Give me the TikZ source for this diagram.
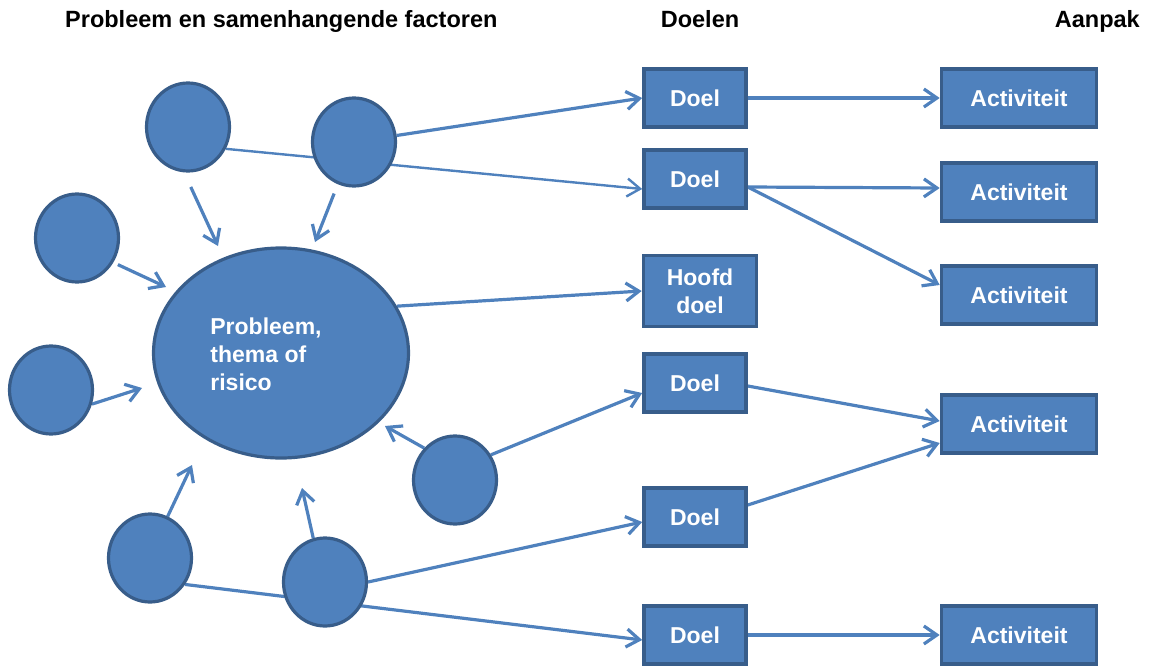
\documentclass[tikz,border=0pt]{standalone}
\usepackage{fontspec}
\setmainfont{Liberation Sans}
\usetikzlibrary{arrows.meta,shapes.geometric,backgrounds}
\definecolor{boxfill}{HTML}{4F81BD}
\definecolor{boxedge}{HTML}{385D8A}
\definecolor{linkblue}{HTML}{4F81BD}
\begin{document}
\begin{tikzpicture}[x=1pt,y=-1pt,
  txt/.style={font=\fontsize{23}{28}\selectfont\bfseries},
  header/.style={font=\fontsize{23.5}{28}\selectfont\bfseries,text=black,inner sep=0pt},
  factor/.style={ellipse,draw=boxedge,fill=boxfill,line width=3.2pt,inner sep=0pt,minimum width=83pt,minimum height=88pt},
  kern/.style={ellipse,draw=boxedge,fill=boxfill,line width=3.2pt,inner sep=0pt,minimum width=255pt,minimum height=210pt},
  goalbox/.style={rectangle,draw=boxedge,fill=boxfill,line width=3.6pt,inner sep=0pt,minimum width=102pt,minimum height=58pt,txt,text=white,align=center},
  actbox/.style={goalbox,minimum width=155pt},
  link/.style={draw=linkblue,line width=3.2pt},
  arr/.style={link,-{Straight Barb[length=13pt,width=18pt]}},
]
\useasboundingbox (0,0) rectangle (1149,669);

% headers
\node[header,anchor=base west] (h1) at (65,28) {Probleem en samenhangende factoren};
\node[header,anchor=base] (h2) at (700,28) {Doelen};
\node[header,anchor=base east] (h3) at (1140,28) {Aanpak};

% central problem
\node[kern] (big) at (281,353) {};
\node[txt,text=white,align=left,inner sep=0pt] (bigtext) at (266,354) {Probleem,\\thema of\\risico};

% factors
\node[factor] (c1) at (188,127) {};
\node[factor] (c2) at (354,142) {};
\node[factor] (c3) at (77,238) {};
\node[factor] (c4) at (51,390) {};
\node[factor] (c5) at (455,480) {};
\node[factor] (c6) at (150,558) {};
\node[factor] (c7) at (325,582) {};

% goals
\node[goalbox] (d1) at (695,98) {Doel};
\node[goalbox] (d2) at (695,179) {Doel};
\node[goalbox,minimum width=113pt,minimum height=71pt] (hoofd) at (700,291) {Hoofd\\doel};
\node[goalbox] (d3) at (695,383) {Doel};
\node[goalbox] (d4) at (695,517) {Doel};
\node[goalbox] (d5) at (695,635) {Doel};

% activities
\node[actbox] (a1) at (1019,98) {Activiteit};
\node[actbox] (a2) at (1019,192) {Activiteit};
\node[actbox] (a3) at (1019,295) {Activiteit};
\node[actbox] (a4) at (1019,424) {Activiteit};
\node[actbox] (a5) at (1019,635) {Activiteit};

% free arrow tips near the problem
\coordinate (t1) at (218,246);
\coordinate (t2) at (315,242);
\coordinate (t3) at (166,287);
\coordinate (t4) at (142,388);
\coordinate (t5) at (385,426);
\coordinate (t6) at (192,465);
\coordinate (t7) at (302,488);

\begin{pgfonlayer}{background}
\draw[arr,shorten <=16pt] (c1.-95) -- (t1);
\draw[arr,shorten <=10pt] (c2.-111) -- (t2);
\draw[arr,shorten <=5pt] (c3.-34) -- (t3);
\draw[arr] (c4.-19) -- (t4);
\draw[arr] (c5.134) -- (t5);
\draw[arr] (c6.67) -- (t6);
\draw[arr] (c7.105) -- (t7);

\draw[arr] (c2) -- (d1.west);
\draw[arr,line width=2.4pt] (c1.-30) -- ([yshift=-10pt]d2.west);
\draw[arr] (big.22) -- (hoofd.west);
\draw[arr] (c5.35) -- ([yshift=-10pt]d3.west);
\draw[arr] (c7.east) -- ([yshift=-5pt]d4.west);
\draw[arr] (c6.-37) -- ([yshift=-5pt]d5.west);

\draw[arr] (d1.east) -- (a1.west);
\draw[arr] ([yshift=-8pt]d2.east) -- ([yshift=4pt]a2.west);
\draw[arr] ([yshift=-8pt]d2.east) -- ([yshift=10pt]a3.west);
\draw[arr] ([yshift=-3pt]d3.east) -- ([yshift=3pt]a4.west);
\draw[arr] ([yshift=12pt]d4.east) -- ([yshift=-19pt]a4.west);
\draw[arr] (d5.east) -- (a5.west);
\end{pgfonlayer}
\end{tikzpicture}
\end{document}
